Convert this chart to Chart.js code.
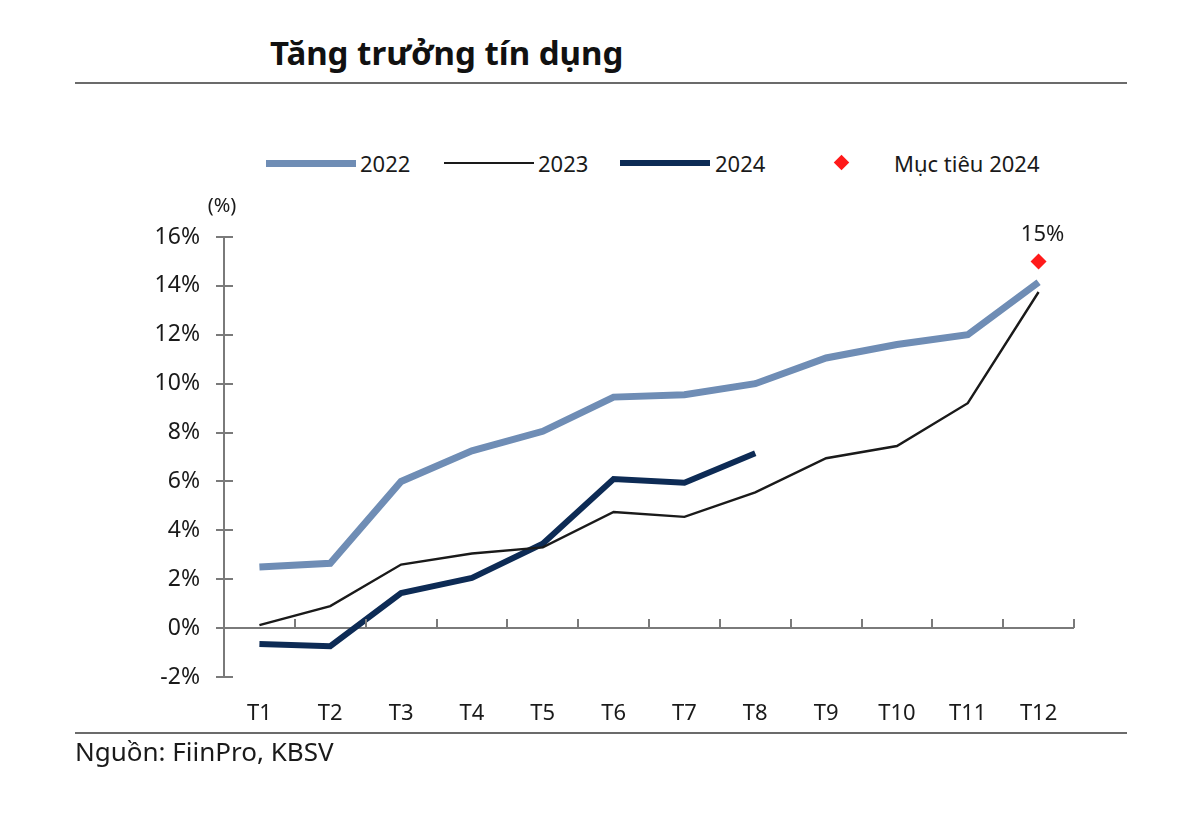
<!DOCTYPE html>
<html lang="vi">
<head>
<meta charset="utf-8">
<title>Tăng trưởng tín dụng</title>
<script src="https://cdn.jsdelivr.net/npm/chart.js@4.4.1/dist/chart.umd.min.js"></script>
<style>
    body {
        margin: 0;
        background: #ffffff;
        font-family: "Noto Sans", sans-serif;
        color: #1a1a1a;
    }
    #wrap {
        position: relative;
        width: 1200px;
        height: 818px;
        overflow: hidden;
    }
    #creditChart {
        position: absolute;
        left: 0;
        top: 0;
    }
    .title {
        position: absolute;
        left: 270px;
        top: 30px;
        font-size: 33px;
        font-weight: 700;
        color: #111;
    }
    .rule {
        position: absolute;
        left: 75px;
        width: 1052px;
        height: 2px;
        background: #6b6b6b;
    }
    .legend-line {
        position: absolute;
        width: 90px;
    }
    .legend-text {
        position: absolute;
        top: 148px;
        font-size: 22px;
        line-height: 30px;
        color: #1a1a1a;
    }
    .legend-diamond {
        position: absolute;
        left: 836px;
        top: 157px;
        width: 11px;
        height: 11px;
        background: #ff1a1a;
        transform: rotate(45deg);
    }
    .source {
        position: absolute;
        left: 75px;
        top: 733px;
        font-size: 26px;
        color: #1a1a1a;
    }
</style>
</head>
<body>
<div id="wrap">
    <div class="title">Tăng trưởng tín dụng</div>
    <div class="rule" style="top: 82px;"></div>

    <div id="legend"></div>

    <canvas id="creditChart" width="1200" height="818"></canvas>

    <div class="rule" style="top: 732px;"></div>
    <div class="source">Nguồn: FiinPro, KBSV</div>
</div>

<script>
const months = ["T1", "T2", "T3", "T4", "T5", "T6", "T7", "T8", "T9", "T10", "T11", "T12"];

const credit2022 = [2.5, 2.65, 6.0, 7.25, 8.05, 9.45, 9.55, 10.0, 11.05, 11.6, 12.0, 14.15];
const credit2023 = [0.12, 0.9, 2.6, 3.05, 3.3, 4.75, 4.55, 5.55, 6.95, 7.45, 9.2, 13.75];
const credit2024 = [-0.65, -0.74, 1.43, 2.05, 3.45, 6.1, 5.95, 7.15];
const target2024 = [null, null, null, null, null, null, null, null, null, null, null, 15];

const yTicks = [-2, 0, 2, 4, 6, 8, 10, 12, 14, 16];

const AXIS_COLOR = "#7a7a7a";

// legend drawn as html so it sits exactly where the report puts it
function buildLegend() {
    const legend = document.getElementById("legend");
    const items = [
        { label: "2022", color: "#6f8db5", width: 7, lineLeft: 266, textLeft: 360 },
        { label: "2023", color: "#1a1a1a", width: 2, lineLeft: 444, textLeft: 538 },
        { label: "2024", color: "#0d2b55", width: 6, lineLeft: 620, textLeft: 715 }
    ];

    items.forEach(item => {
        legend.innerHTML += `
            <div class="legend-line" style="left:${item.lineLeft}px; top:${163 - item.width / 2}px; height:${item.width}px; background:${item.color};"></div>
            <div class="legend-text" style="left:${item.textLeft}px;">${item.label}</div>
        `;
    });

    legend.innerHTML += `
        <div class="legend-diamond"></div>
        <div class="legend-text" style="left:894px;">Mục tiêu 2024</div>
    `;
}

const axisExtras = {
    id: "axisExtras",
    afterDatasetsDraw(chart) {
        const { ctx, chartArea, scales } = chart;
        const x = scales.x;
        const y = scales.y;
        const zeroY = y.getPixelForValue(0);
        const half = (x.getPixelForValue(1) - x.getPixelForValue(0)) / 2;

        ctx.save();
        ctx.strokeStyle = AXIS_COLOR;
        ctx.lineWidth = 2;

        // inner half of the y tick marks
        yTicks.forEach(v => {
            const py = Math.round(y.getPixelForValue(v));
            ctx.beginPath();
            ctx.moveTo(chartArea.left, py);
            ctx.lineTo(chartArea.left + 9, py);
            ctx.stroke();
        });

        // category separators standing on the zero line
        months.forEach((m, i) => {
            const px = Math.round(x.getPixelForValue(i) + half);
            ctx.beginPath();
            ctx.moveTo(px, zeroY);
            ctx.lineTo(px, zeroY - 9);
            ctx.stroke();
        });

        ctx.fillStyle = "#1a1a1a";
        ctx.textAlign = "center";
        ctx.textBaseline = "middle";
        ctx.font = "20px 'Noto Sans'";
        ctx.fillText("(%)", chartArea.left - 2, 206);

        const last = months.length - 1;
        ctx.font = "22px 'Noto Sans'";
        ctx.fillText(
            `${target2024[last]}%`,
            x.getPixelForValue(last) + 4,
            y.getPixelForValue(target2024[last]) - 27
        );
        ctx.restore();
    }
};

function drawChart() {
    const ctx = document.getElementById("creditChart");

    new Chart(ctx, {
        type: "line",
        data: {
            labels: months,
            datasets: [
                {
                    label: "Mục tiêu 2024",
                    data: target2024,
                    showLine: false,
                    pointStyle: "rectRot",
                    pointRadius: 8,
                    pointBackgroundColor: "#ff1a1a",
                    pointBorderColor: "#ff1a1a",
                    pointBorderWidth: 0
                },
                {
                    label: "2023",
                    data: credit2023,
                    borderColor: "#1a1a1a",
                    borderWidth: 2.4,
                    pointRadius: 0,
                    tension: 0
                },
                {
                    label: "2022",
                    data: credit2022,
                    borderColor: "#6f8db5",
                    borderWidth: 7,
                    pointRadius: 0,
                    tension: 0
                },
                {
                    label: "2024",
                    data: credit2024,
                    borderColor: "#0d2b55",
                    borderWidth: 6,
                    pointRadius: 0,
                    tension: 0
                }
            ]
        },
        options: {
            responsive: false,
            animation: false,
            layout: {
                padding: { left: 0, top: 237, right: 126, bottom: 0 }
            },
            scales: {
                x: {
                    offset: true,
                    border: { display: false },
                    grid: { display: false, drawTicks: false },
                    ticks: {
                        color: "#1a1a1a",
                        padding: 24,
                        maxRotation: 0,
                        autoSkip: false,
                        font: { family: "Noto Sans", size: 22 }
                    },
                    afterFit: (axis) => { axis.height = 141; }
                },
                y: {
                    min: -2,
                    max: 16,
                    border: { display: true, color: AXIS_COLOR, width: 2 },
                    grid: {
                        drawOnChartArea: true,
                        drawTicks: true,
                        tickLength: 8,
                        tickColor: AXIS_COLOR,
                        tickWidth: 2,
                        lineWidth: 2,
                        color: (c) => (c.tick && c.tick.value === 0 ? AXIS_COLOR : "rgba(0,0,0,0)")
                    },
                    ticks: {
                        stepSize: 2,
                        padding: 16,
                        color: "#1a1a1a",
                        font: { family: "Noto Sans", size: 23 },
                        callback: (value) => `${value}%`
                    },
                    afterFit: (axis) => { axis.width = 224; }
                }
            },
            plugins: {
                legend: { display: false },
                tooltip: { enabled: false }
            }
        },
        plugins: [axisExtras]
    });
}

buildLegend();
drawChart();
</script>
</body>
</html>
